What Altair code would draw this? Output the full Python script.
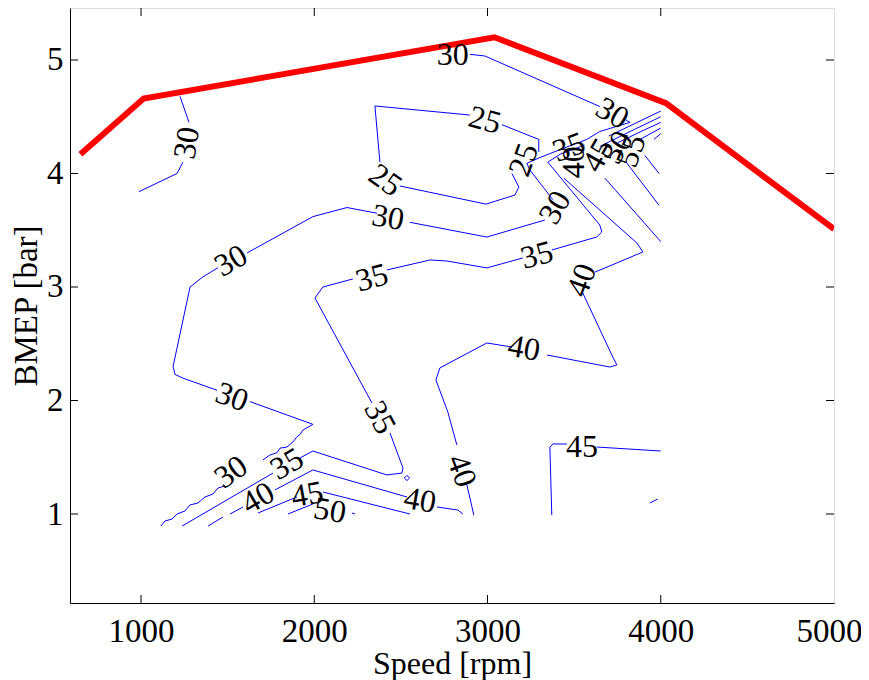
import altair as alt
import pandas as pd

# ---------------- data ----------------
# red operating boundary (rpm, bar)
limit_rpm = [650, 1015, 3040, 4030, 5000]
limit_bmep = [4.17, 4.66, 5.20, 4.62, 3.51]

# contour segments (level, [(rpm, bmep), ...]) -- gaps are where labels sit
c30_left_a = [(1225, 4.68), (1277, 4.45)]
c30_left_b = [(1242, 4.10), (1208, 4.00), (988, 3.84)]
c30_top = [(2898, 5.05), (2985, 5.035), (3648, 4.59)]
c30_top_b = [(3800, 4.47), (3822, 4.45), (3648, 4.37), (3573, 4.30), (3418, 4.21),
             (3302, 4.14), (3227, 4.09), (3245, 4.03), (3377, 3.77)]
c30_mid_b = [(3331, 3.59), (2996, 3.44), (2552, 3.57)]
c30_mid_c = [(2362, 3.65), (2189, 3.70), (1992, 3.62), (1612, 3.30)]
c30_mid_d = [(1444, 3.17), (1358, 3.09), (1283, 3.00), (1185, 2.30), (1196, 2.23),
             (1237, 2.20), (1439, 2.09)]
c30_mid_e = [(1629, 1.99), (1992, 1.79), (1935, 1.74), (1917, 1.70), (1900, 1.68),
             (1877, 1.635), (1842, 1.59), (1802, 1.58), (1785, 1.54), (1744, 1.52),
             (1704, 1.476)]
c30_mid_f = [(1485, 1.247), (1444, 1.229), (1415, 1.176), (1369, 1.15), (1329, 1.097),
             (1283, 1.08), (1254, 1.027), (1208, 1.0), (1179, 0.956), (1138, 0.938),
             (1115, 0.894)]

c25_a = [(3083, 4.43), (3296, 4.30), (3296, 4.19)]
c25_b = [(3141, 4.00), (3181, 3.88), (3158, 3.81), (2991, 3.73), (2494, 3.89)]
c25_c = [(2379, 4.10), (2350, 4.595), (2898, 4.515)]

c35_a = [(1237, 0.894), (1762, 1.361)]
c35_b = [(1917, 1.493), (1992, 1.555), (2419, 1.344), (2506, 1.361), (2512, 1.405),
         (2437, 1.714)]
c35_c = [(2333, 1.978), (2004, 2.903), (2050, 3.0), (2223, 3.071)]
c35_d = [(2419, 3.15), (2668, 3.238), (2766, 3.229), (2996, 3.168), (3204, 3.256)]
c35_e = [(3371, 3.326), (3631, 3.441), (3660, 3.485), (3648, 3.546), (3348, 4.10),
         (3420, 4.17), (3560, 4.25)]
c35_f = [(3700, 4.33), (3850, 4.44), (4000, 4.55)]
c35_loop = [(2520, 1.317), (2535, 1.34), (2550, 1.317), (2535, 1.295), (2520, 1.317)]

c40_a = [(1387, 0.894), (1473, 0.974)]
c40_b = [(1514, 1.0), (1589, 1.062)]
c40_c = [(1773, 1.212), (1992, 1.388), (2535, 1.15)]
c40_d = [(2708, 1.062), (2829, 1.035), (2858, 1.0)]
c40_e = [(2921, 0.991), (2881, 1.256)]
c40_f = [(2823, 1.608), (2771, 1.899), (2702, 2.181), (2725, 2.287), (2996, 2.507),
         (3141, 2.471)]
c40_g = [(3343, 2.401), (3706, 2.295), (3747, 2.313), (3723, 2.383), (3550, 2.947)]
c40_h = [(3620, 3.132), (3747, 3.212), (3897, 3.309), (3862, 3.388), (3440, 3.96)]
c40_i = [(3650, 4.24), (3850, 4.39), (4000, 4.50)]

c45_a = [(1675, 1.009), (1900, 1.15)]
c45_b = [(2050, 1.194), (2552, 1.0)]
c45_c = [(3371, 0.991), (3360, 1.59), (3377, 1.617), (3458, 1.617)]
c45_d = [(3631, 1.59), (4000, 1.555)]
c45_e = [(4000, 3.40), (3677, 3.96)]
c45_f = [(3750, 4.27), (3900, 4.38), (4000, 4.45)]

c50_a = [(1848, 1.0), (1992, 1.088)]
c50_b = [(2217, 1.009), (2235, 1.0)]
c50_c = [(3937, 1.097), (3983, 1.132)]
c50_d = [(3990, 3.72), (3800, 4.10)]
c50_e = [(3880, 4.30), (4000, 4.40)]

c55_a = [(3990, 4.00), (3908, 4.16)]
c55_b = [(3960, 4.30), (4000, 4.35)]

segments = [
    (30, c30_left_a), (30, c30_left_b), (30, c30_top), (30, c30_top_b), (30, c30_mid_b),
    (30, c30_mid_c), (30, c30_mid_d), (30, c30_mid_e), (30, c30_mid_f),
    (25, c25_a), (25, c25_b), (25, c25_c),
    (35, c35_a), (35, c35_b), (35, c35_c), (35, c35_d), (35, c35_e), (35, c35_f), (35, c35_loop),
    (40, c40_a), (40, c40_b), (40, c40_c), (40, c40_d), (40, c40_e), (40, c40_f),
    (40, c40_g), (40, c40_h), (40, c40_i),
    (45, c45_a), (45, c45_b), (45, c45_c), (45, c45_d), (45, c45_e), (45, c45_f),
    (50, c50_a), (50, c50_b), (50, c50_c), (50, c50_d), (50, c50_e),
    (55, c55_a), (55, c55_b),
]

# contour labels
label_text = ["30", "30", "30", "30", "30", "30", "30", "30",
              "25", "25", "25",
              "35", "35", "35", "35", "35",
              "40", "40", "40", "40", "40", "40",
              "45", "45", "45", "50", "50", "55"]
label_rpm = [1265, 2800, 3720, 3390, 2425, 1520, 1525, 1520,
             2985, 2410, 3210,
             1842, 2379, 2333, 3285, 3470,
             1675, 2610, 2850, 3210, 3545, 3500,
             1960, 3545, 3640, 2090, 3750, 3830]
label_bmep = [4.27, 5.04, 4.53, 3.70, 3.61, 3.23, 2.03, 1.37,
              4.47, 3.94, 4.12,
              1.44, 1.85, 3.08, 3.28, 4.23,
              1.14, 1.12, 1.38, 2.46, 3.06, 4.10,
              1.17, 1.59, 4.16, 1.03, 4.23, 4.20]
label_angle = [279, 0, 30, 300, 10, 330, 20, 325,
               15, 35, 290,
               330, 62, 345, 345, 340,
               330, 10, 70, 10, 290, 270,
               350, 0, 300, 10, 300, 290]

x_ticks = [1000, 2000, 3000, 4000]
x_labels = [1000, 2000, 3000, 4000, 5000]
y_ticks = [1, 2, 3, 4, 5]

# ---------------- build ----------------
rows = []
for i, (lvl, pts) in enumerate(segments):
    for j, (x, y) in enumerate(pts):
        rows.append({"seg": i, "order": j, "level": lvl, "rpm": x, "bmep": y})
contours = pd.DataFrame(rows)
limit = pd.DataFrame({"rpm": limit_rpm, "bmep": limit_bmep, "order": range(len(limit_rpm))})
labels = pd.DataFrame({"text": label_text, "rpm": label_rpm, "bmep": label_bmep,
                       "angle": label_angle})

W, H = 764, 595
FONT = "Liberation Serif"
xs = alt.Scale(domain=[590, 5000], nice=False, zero=False)
ys = alt.Scale(domain=[0.216, 5.458], nice=False, zero=False)

xax = alt.Axis(values=x_labels, format="d", ticks=False, grid=False,
               labelFont=FONT, labelFontSize=33, labelColor="black", labelPadding=12,
               labelFlush=True, labelFlushOffset=28,
               domainColor="black", title="Speed [rpm]", titleFont=FONT, titleFontSize=32,
               titleFontWeight="normal", titleColor="black", titlePadding=0)
yax = alt.Axis(values=y_ticks, format="d", ticks=False, grid=False,
               labelFont=FONT, labelFontSize=33, labelColor="black", labelPadding=7,
               domainColor="black", title="BMEP [bar]", titleFont=FONT, titleFontSize=33,
               titleFontWeight="normal", titleColor="black", titlePadding=3)

lines = alt.Chart(contours).mark_line(color="#0000ff", strokeWidth=1, clip=True).encode(
    x=alt.X("rpm:Q", scale=xs, axis=xax),
    y=alt.Y("bmep:Q", scale=ys, axis=yax),
    detail="seg:N",
    order="order:Q",
)

texts = alt.Chart(labels).mark_text(font=FONT, fontSize=32, color="black",
                                    align="center", baseline="middle").encode(
    x=alt.X("rpm:Q", scale=xs),
    y=alt.Y("bmep:Q", scale=ys),
    text="text:N",
    angle=alt.Angle("angle:Q", scale=None),
)

red = alt.Chart(limit).mark_line(color="#ff0000", strokeWidth=6, clip=True,
                                 strokeJoin="miter").encode(
    x=alt.X("rpm:Q", scale=xs),
    y=alt.Y("bmep:Q", scale=ys),
    order="order:Q",
)

xt = pd.DataFrame({"rpm": x_ticks})
yt = pd.DataFrame({"bmep": y_ticks})
tick_b = alt.Chart(xt).mark_rule(color="black", strokeWidth=1).encode(
    x=alt.X("rpm:Q", scale=xs), y=alt.value(H), y2=alt.value(H - 8))
tick_t = alt.Chart(xt).mark_rule(color="black", strokeWidth=1).encode(
    x=alt.X("rpm:Q", scale=xs), y=alt.value(0), y2=alt.value(8))
tick_l = alt.Chart(yt).mark_rule(color="black", strokeWidth=1).encode(
    y=alt.Y("bmep:Q", scale=ys), x=alt.value(0), x2=alt.value(8))
tick_r = alt.Chart(yt).mark_rule(color="black", strokeWidth=1).encode(
    y=alt.Y("bmep:Q", scale=ys), x=alt.value(W), x2=alt.value(W - 8))

chart = alt.layer(lines, red, texts, tick_b, tick_t, tick_l, tick_r).properties(
    width=W, height=H,
    autosize=alt.AutoSizeParams(type="none"),
    padding={"left": 62, "top": 0, "right": 27, "bottom": 77},
).configure_view(stroke="black", strokeWidth=1).configure(background="white")

chart.save("out.html", embed_options={"renderer": "svg", "actions": False})
